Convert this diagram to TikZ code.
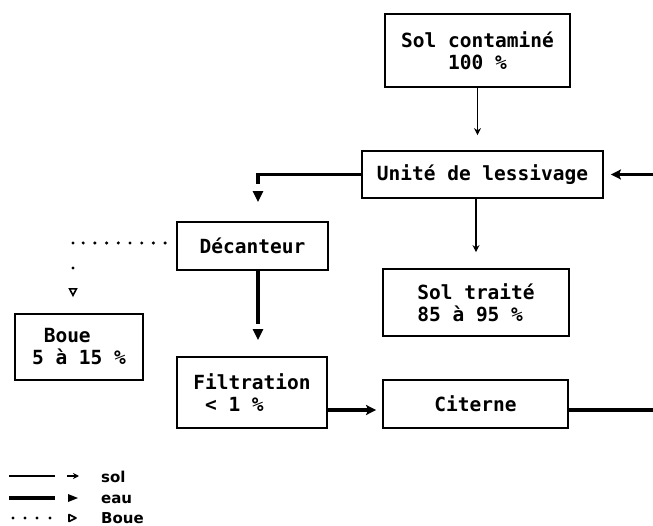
\documentclass[tikz,border=0pt]{standalone}
\usepackage{fontspec}
\setmonofont{DejaVu Sans Mono}
\newfontfamily\legendfont{DejaVu Sans}
\usetikzlibrary{arrows.meta}

\begin{document}
\begin{tikzpicture}[x=1pt,y=-1pt,
  box/.style={draw, line width=1.8pt, inner sep=0pt, align=center,
    font=\ttfamily\bfseries\fontsize{19.5}{22}\selectfont},
  solc/.style={line width=1.4pt, -{Stealth[length=7pt,width=7pt]}},
  eaut/.style={line width=3.6pt, -{Stealth[length=10pt,width=10pt,inset=2pt]}},
  eauline/.style={line width=3.6pt},
  eautip/.style={line width=3.6pt, -{Triangle[length=11pt,width=10pt]}},
  boueh/.style={line width=3.4pt, line cap=round, dash pattern=on 0pt off 11.7pt},
  bouev/.style={line width=3.4pt, line cap=round, dash pattern=on 0pt off 25pt,
    -{Triangle[open,length=9pt,width=9pt,line width=1.6pt]}},
  legtext/.style={anchor=base west, inner sep=0pt, font=\legendfont\bfseries\fontsize{15}{18}\selectfont}
]
\useasboundingbox (0,0) rectangle (653,526);

% process units
\node[box, minimum width=185pt, minimum height=73pt] (sol) at (477.5,50.5) {Sol contaminé\\100 \%};
\node[box, minimum width=241pt, minimum height=47pt] (unite) at (482.5,174.5) {Unité de lessivage};
\node[box, minimum width=151pt, minimum height=48pt] (dec) at (252.5,246) {Décanteur};
\node[box, minimum width=128pt, minimum height=66pt, align=left] (boue) at (79,347) {\hphantom{5}Boue\\5 à 15 \%};
\node[box, minimum width=150pt, minimum height=71pt, align=left] (filt) at (252,392.5) {Filtration\\\hphantom{F}< 1 \%};
\node[box, minimum width=186pt, minimum height=67pt, align=left] (traite) at (476,302.5) {Sol traité\\85 à 95 \%};
\node[box, minimum width=185pt, minimum height=48pt] (cit) at (475.5,404) {Citerne};

% loose ends of the water loop
\coordinate (retour) at (653,174.5);
\coordinate (depart) at (653,410);
\coordinate (coin) at (73,243);

% soil flow
\draw[solc, shorten >=15pt] (sol.south) -- (sol.south |- unite.north);
\draw[solc, shorten >=16pt] (traite.north |- unite.south) -- (traite.north);

% water flow
\draw[eaut, shorten >=7pt] (retour) -- (unite.east);
\draw[eauline, shorten >=37pt] (unite.west) -| ([xshift=5.5pt]dec.north);
\draw[eautip] ([xshift=5.5pt,yshift=30pt]dec.north) -- ([xshift=5.5pt,yshift=19pt]dec.north);
\draw[eauline, shorten >=32pt] ([xshift=5.5pt]dec.south) -- ([xshift=5.5pt]dec.south |- filt.north);
\draw[eautip] ([xshift=5.5pt,yshift=26pt]dec.south |- filt.north) -- ([xshift=5.5pt,yshift=16pt]dec.south |- filt.north);
\draw[eaut, shorten >=6pt] ([yshift=-17.5pt]filt.east) -- ([yshift=-17.5pt]filt.east -| cit.west);
\draw[eauline] (cit.east |- depart) -- (depart);

% sludge flow
\draw[boueh, shorten <=11pt] ([yshift=3pt]dec.west) -- (coin);
\draw[bouev, shorten >=16pt] (coin) -- (coin |- boue.north);

% legend
\draw[line width=1.4pt] (9,476) -- (55,476);
\draw[line width=1.4pt, -{Stealth[length=6pt,width=6pt]}] (67,476) -- (79,476);
\draw[line width=3.6pt] (9,498) -- (55,498);
\fill (68,494) -- (78,498) -- (68,502) -- cycle;
\foreach \x in {13,25,37,50} \fill (\x,518) circle (1.6);
\draw[line width=1.6pt, line join=round] (69,514.5) -- (76,518) -- (69,521.5) -- cycle;
\node[legtext] (lsol) at (101,482) {sol};
\node[legtext] (leau) at (101,503) {eau};
\node[legtext] (lboue) at (101,523) {Boue};
\end{tikzpicture}
\end{document}
